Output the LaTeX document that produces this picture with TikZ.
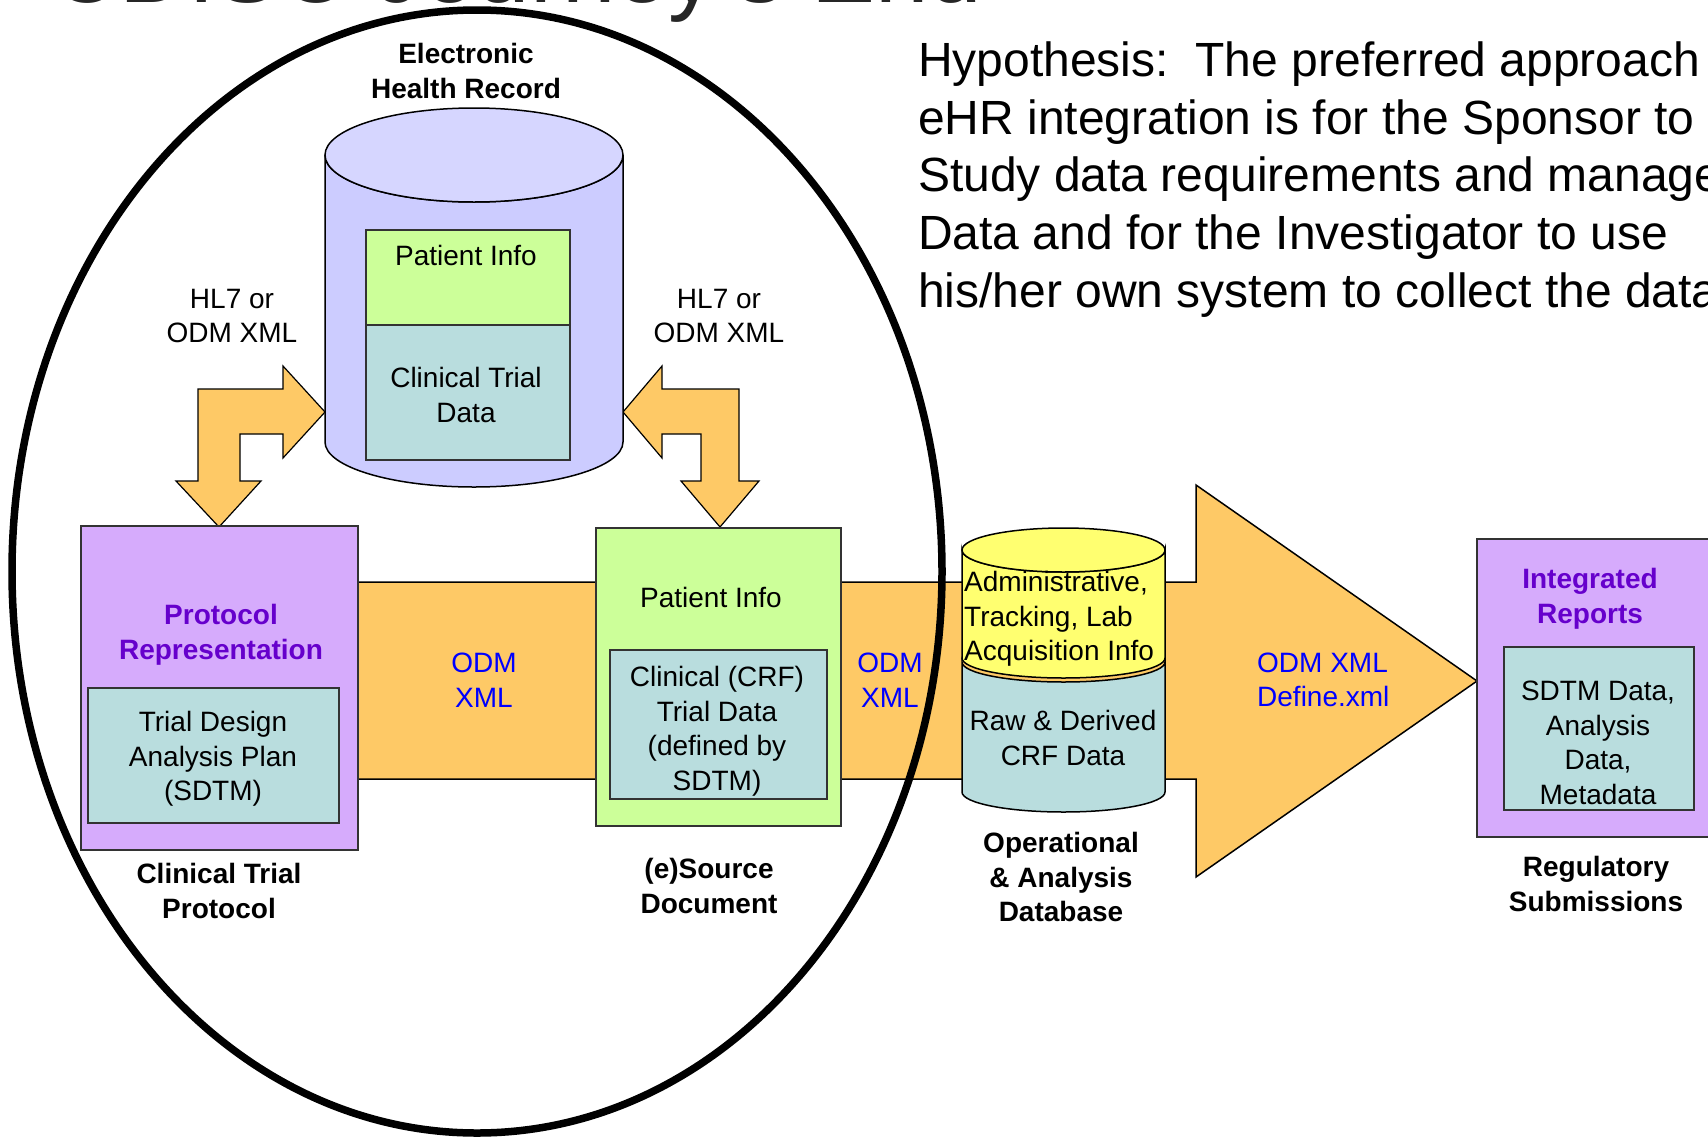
\documentclass[tikz,border=0pt]{standalone}
\usepackage{fontspec}
\setmainfont{Liberation Sans}
\definecolor{lav}{RGB}{204,204,255}
\definecolor{lavtop}{RGB}{214,214,255}
\definecolor{leaf}{RGB}{204,255,153}
\definecolor{cteal}{RGB}{185,221,222}
\definecolor{cpurple}{RGB}{214,171,252}
\definecolor{corange}{RGB}{254,201,102}
\definecolor{cyellow}{RGB}{255,255,112}
\definecolor{ptext}{RGB}{102,0,204}
\definecolor{btext}{RGB}{0,0,255}
\definecolor{titlegray}{RGB}{38,38,38}
\begin{document}
\begin{tikzpicture}[x=1pt,y=-1pt,
  lbl/.style={font=\fontsize{28}{34.5}\selectfont, align=center, inner sep=0pt},
  lblb/.style={font=\fontsize{28}{34.5}\selectfont\bfseries, align=center, inner sep=0pt},
  odm/.style={lbl, text=btext},
  head/.style={lblb, text=ptext},
  hyp/.style={font=\fontsize{48}{57.7}\selectfont, anchor=base west, inner sep=0pt},
  box/.style={draw=black!80, line width=1.5pt, inner sep=0pt},
  cyl/.style={draw=black, line width=1.5pt},
  block/.style={draw=black, line width=1.2pt, fill=corange}]

\useasboundingbox (0,0) rectangle (1708,1138);
\clip (0,0) rectangle (1708,1138);

% main data-flow arrow running under the boxes
\path[block, line width=1.5pt] (300,582) -- (1196,582) -- (1196,485) -- (1477,681)
  -- (1196,877) -- (1196,779) -- (300,779) -- cycle;

% bent two-way arrows between the EHR and the documents
\path[block] (198,389) -- (283,389) -- (283,366) -- (325,412) -- (283,458) -- (283,434)
  -- (240,434) -- (240,481) -- (261,481) -- (219,527) -- (176,481) -- (198,481) -- cycle;
\path[block] (739,389) -- (662,389) -- (662,366) -- (623,412) -- (662,458) -- (662,434)
  -- (701,434) -- (701,481) -- (681,481) -- (720,527) -- (759,481) -- (739,481) -- cycle;

% electronic health record store
\path[cyl, fill=lav] (325,155) -- (325,442)
  arc[start angle=180, end angle=360, x radius=149pt, y radius=45pt] -- (623,155)
  arc[start angle=0, end angle=-180, x radius=149pt, y radius=47pt] -- cycle;
\draw[cyl, fill=lavtop] (474,155) ellipse [x radius=149pt, y radius=47pt];
\node[box, fill=leaf, minimum width=204pt, minimum height=95pt] (ehrpi) at (468,277.5) {};
\node[box, fill=cteal, minimum width=204pt, minimum height=135pt] (ehrct) at (468,392.5) {};
\node[lbl] (ehrpit) at (466,255) {Patient Info};
\node[lbl] (ehrctt) at (466,395) {Clinical Trial\\Data};
\node[lblb] (ehrlbl) at (466,71) {Electronic\\Health Record};

\node[lbl] (hl7a) at (232,316) {HL7 or\\ODM XML};
\node[lbl] (hl7b) at (719,316) {HL7 or\\ODM XML};

% clinical trial protocol
\node[box, fill=cpurple, minimum width=277pt, minimum height=324pt] (proto) at (219.5,688) {};
\node[box, fill=cteal, minimum width=251pt, minimum height=135pt] (protoin) at (213.5,755.5) {};
\node[head] (protohd) at (221,635) {Protocol\\Representation};
\node[lbl] (protot) at (213,759) {Trial Design\\Analysis Plan\\(SDTM)};
\node[lblb] (protolbl) at (219,891) {Clinical Trial\\Protocol};

\node[odm] (odm1) at (484,680) {ODM\\XML};

% source document
\node[box, fill=leaf, minimum width=245pt, minimum height=298pt] (src) at (718.5,677) {};
\node[box, fill=cteal, minimum width=217pt, minimum height=149pt] (srcin) at (718.5,724.5) {};
\node[lbl] (srcpi) at (711,597) {Patient Info};
\node[lbl] (srct) at (717,731) {Clinical (CRF)\\Trial Data\\(defined by\\SDTM)};
\node[lblb] (srclbl) at (709,886) {(e)Source\\Document};

\node[odm] (odm2) at (890,680) {ODM\\XML};

% operational and analysis database
\path[cyl, fill=cteal] (962,662) -- (962,792)
  arc[start angle=180, end angle=360, x radius=101.5pt, y radius=20pt] -- (1165,662)
  arc[start angle=0, end angle=-180, x radius=101.5pt, y radius=20pt] -- cycle;
\path[cyl, fill=cyellow] (962,550) -- (962,658)
  arc[start angle=180, end angle=360, x radius=101.5pt, y radius=20pt] -- (1165,550)
  arc[start angle=0, end angle=-180, x radius=101.5pt, y radius=22pt] -- cycle;
\draw[cyl, fill=cyellow] (1063.5,550) ellipse [x radius=101.5pt, y radius=22pt];
\node[lbl, align=left, anchor=west] (dbadm) at (964,619) {Administrative,\\Tracking, Lab\\Acquisition Info};
\node[lbl] (dbraw) at (1063,738) {Raw \& Derived\\CRF Data};
\node[lblb] (dblbl) at (1061,877) {Operational\\\& Analysis\\Database};

\node[odm, align=left, anchor=west] (odm3) at (1257,680) {ODM XML\\Define.xml};

% regulatory submissions
\node[box, fill=cpurple, minimum width=243pt, minimum height=298pt] (reg) at (1598.5,688) {};
\node[box, fill=cteal, minimum width=190pt, minimum height=163pt] (regin) at (1599,728.5) {};
\node[head] (reghd) at (1590,599) {Integrated\\Reports};
\node[lbl] (regt) at (1598,743) {SDTM Data,\\Analysis\\Data,\\Metadata};
\node[lblb] (reglbl) at (1596,884) {Regulatory\\Submissions};

% scope of the eHR integration
\draw[line width=7.5pt] (477,571.5) ellipse [x radius=465pt, y radius=561.5pt];

% hypothesis statement
\node[hyp] (h1) at (918,76) {Hypothesis:\ \ The preferred approach};
\node[hyp] (h2) at (918,134) {eHR integration is for the Sponsor to};
\node[hyp] (h3) at (918,191) {Study data requirements and manage};
\node[hyp] (h4) at (918,249) {Data and for the Investigator to use};
\node[hyp] (h5) at (918,307) {his/her own system to collect the data};

% slide title
\node[anchor=base west, inner sep=0pt, font=\fontsize{96}{110}\selectfont, text=titlegray] (title) at (50,2) {CDISC Journey's End};
\end{tikzpicture}
\end{document}
